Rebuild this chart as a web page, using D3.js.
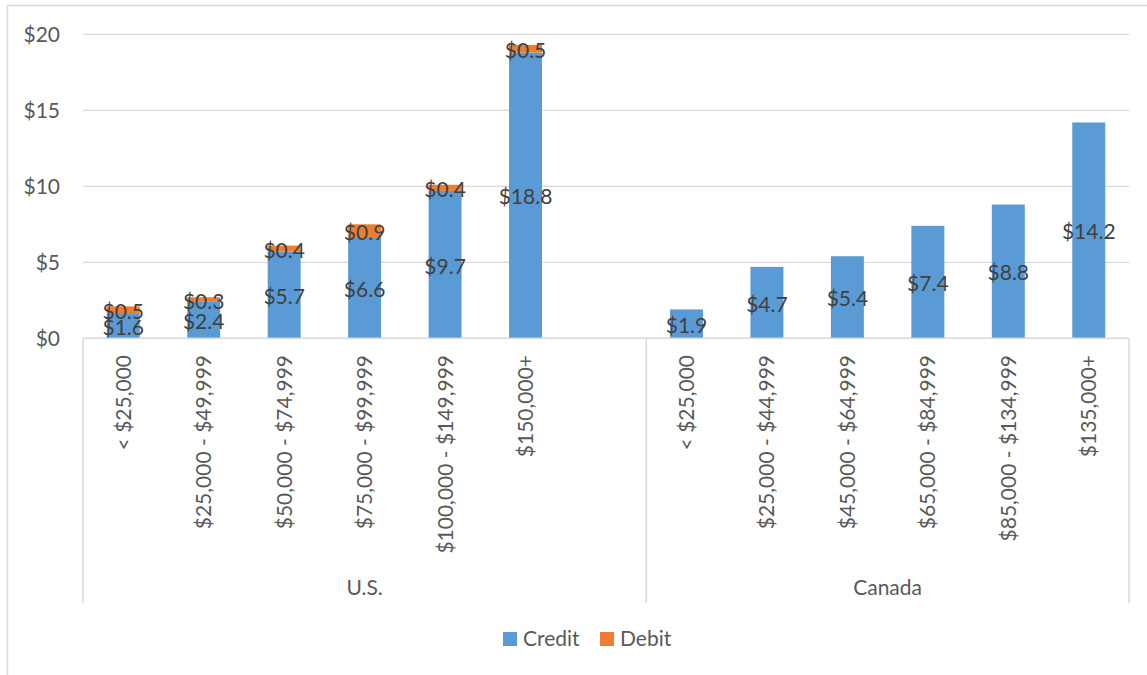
<!DOCTYPE html>
<html>
<head>
<meta charset="utf-8">
<script src="https://cdn.jsdelivr.net/npm/d3@7/dist/d3.min.js"></script>
<style>
  html, body { margin: 0; padding: 0; background: #fff; }
  svg { display: block; font-family: Lato, "Open Sans", sans-serif; }
</style>
</head>
<body>
<svg id="chart" width="1147" height="675"></svg>
<script>
// ---- data ----
const groups = ["U.S.", "Canada"];
const usCategories = ["< $25,000", "$25,000 - $49,999", "$50,000 - $74,999", "$75,000 - $99,999", "$100,000 - $149,999", "$150,000+"];
const caCategories = ["< $25,000", "$25,000 - $44,999", "$45,000 - $64,999", "$65,000 - $84,999", "$85,000 - $134,999", "$135,000+"];
const usCredit = [1.6, 2.4, 5.7, 6.6, 9.7, 18.8];
const usDebit  = [0.5, 0.3, 0.4, 0.9, 0.4, 0.5];
const caCredit = [1.9, 4.7, 5.4, 7.4, 8.8, 14.2];
const caDebit  = [null, null, null, null, null, null];
const yTicks = [0, 5, 10, 15, 20];
const seriesNames = ["Credit", "Debit"];
const seriesColors = ["#5B9BD5", "#ED7D31"];

(function () {
// ---- build rows ----
const rows = [];
usCategories.forEach((c, i) => rows.push({ key: "U.S.|" + c, group: "U.S.", label: c, credit: usCredit[i], debit: usDebit[i] }));
rows.push({ key: "U.S.|spacer", group: "U.S.", label: "", credit: null, debit: null });
caCategories.forEach((c, i) => rows.push({ key: "Canada|" + c, group: "Canada", label: c, credit: caCredit[i], debit: caDebit[i] }));

const svg = d3.select("#chart");
const pLeft = 83, pRight = 1129, pTop = 34.3, pBottom = 338.3;

// chart border
svg.append("rect").attr("x", 7.5).attr("y", 5.5).attr("width", 1160).attr("height", 690)
  .attr("fill", "none").attr("stroke", "#D9D9D9").attr("stroke-width", 1.5);

const x = d3.scaleBand().domain(rows.map(r => r.key)).range([pLeft, pRight])
  .paddingInner(0.59).paddingOuter(0.295);
const y = d3.scaleLinear().domain([0, 20]).range([pBottom, pTop]);

// gridlines
svg.append("g").selectAll("line").data(yTicks.filter(t => t > 0)).join("line")
  .attr("x1", pLeft).attr("x2", pRight)
  .attr("y1", d => y(d)).attr("y2", d => y(d))
  .attr("stroke", "#D9D9D9").attr("stroke-width", 1.3);

// y axis labels
const yAxis = d3.axisLeft(y).tickValues(yTicks).tickFormat(d => "$" + d).tickSize(0).tickPadding(23);
const gy = svg.append("g").attr("transform", `translate(${pLeft},0)`).call(yAxis);
gy.select(".domain").remove();
gy.selectAll("text").attr("fill", "#595959").style("font-size", "21px").style("font-family", "Lato, 'Open Sans', sans-serif");

// stacked bars
const stackData = rows.filter(r => r.credit != null);
const segs = [];
stackData.forEach(r => {
  segs.push({ key: r.key, s: 0, y0: 0, y1: r.credit, v: r.credit });
  if (r.debit != null) segs.push({ key: r.key, s: 1, y0: r.credit, y1: r.credit + r.debit, v: r.debit });
});

svg.append("g").selectAll("rect").data(segs).join("rect")
  .attr("x", d => x(d.key))
  .attr("width", x.bandwidth())
  .attr("y", d => y(d.y1))
  .attr("height", d => y(d.y0) - y(d.y1))
  .attr("fill", d => seriesColors[d.s]);

// category axis lines
svg.append("line").attr("x1", pLeft).attr("x2", pRight).attr("y1", pBottom).attr("y2", pBottom)
  .attr("stroke", "#D9D9D9").attr("stroke-width", 1.5);
const half = (x.step() - x.bandwidth()) / 2;
const sepKeys = [pLeft, x("Canada|" + caCategories[0]) - half, pRight];
svg.append("g").selectAll("line").data(sepKeys).join("line")
  .attr("x1", d => d).attr("x2", d => d).attr("y1", pBottom).attr("y2", 603)
  .attr("stroke", "#D9D9D9").attr("stroke-width", 1.5);

// data labels
svg.append("g").selectAll("text").data(segs).join("text")
  .attr("x", d => x(d.key) + x.bandwidth() / 2)
  .attr("y", d => y((d.y0 + d.y1) / 2))
  .attr("dy", "0.43em")
  .attr("text-anchor", "middle")
  .attr("fill", "#404040")
  .style("font-size", "21px")
  .text(d => "$" + d.v.toFixed(1));

// category labels (rotated)
svg.append("g").selectAll("text").data(rows.filter(r => r.label)).join("text")
  .attr("transform", d => `translate(${x(d.key) + x.bandwidth() / 2},355) rotate(-90)`)
  .attr("dy", "0.36em")
  .attr("text-anchor", "end")
  .attr("fill", "#595959")
  .style("font-size", "21px")
  .text(d => d.label);

// group labels
const groupCenters = groups.map(g => {
  const ks = rows.filter(r => r.group === g).map(r => r.key);
  const a = x(ks[0]) - half;
  const b = x(ks[ks.length - 1]) + x.bandwidth() + half;
  return { g, c: (a + b) / 2 };
});
svg.append("g").selectAll("text").data(groupCenters).join("text")
  .attr("x", d => d.c).attr("y", 595)
  .attr("text-anchor", "middle").attr("fill", "#595959")
  .style("font-size", "21px")
  .text(d => d.g);

// legend
const legendX = [503, 600];
const lg = svg.append("g").selectAll("g").data(seriesNames).join("g")
  .attr("transform", (d, i) => `translate(${legendX[i]},632)`);
lg.append("rect").attr("width", 14).attr("height", 14).attr("fill", (d, i) => seriesColors[i]);
lg.append("text").attr("x", 20).attr("y", 14).attr("fill", "#595959")
  .style("font-size", "21px").text(d => d);
})();
</script>
</body>
</html>
